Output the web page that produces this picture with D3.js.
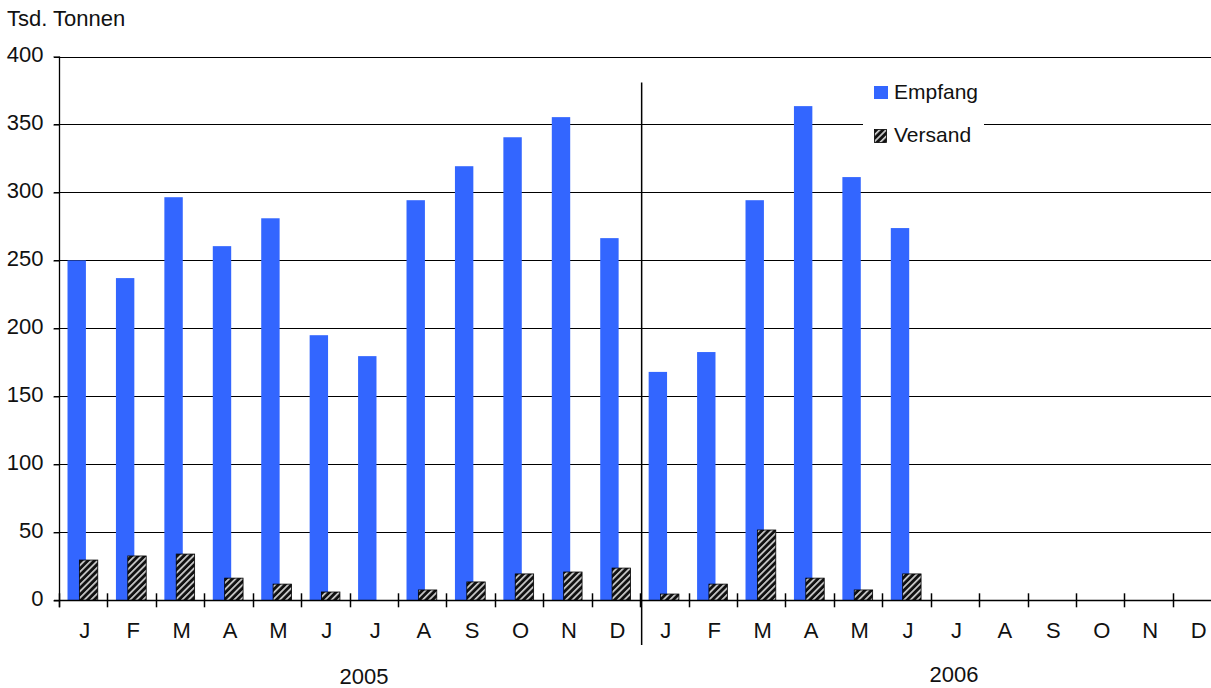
<!DOCTYPE html>
<html>
<head>
<meta charset="utf-8">
<script src="https://cdn.jsdelivr.net/npm/d3@7"></script>
<style>
  html, body { margin: 0; padding: 0; background: #fff; }
  svg { display: block; font-family: "Liberation Sans", Arial, sans-serif; }
</style>
</head>
<body>
<svg id="chart" width="1211" height="688"></svg>
<script>
// ---- data ----
const months = ["J","F","M","A","M","J","J","A","S","O","N","D","J","F","M","A","M","J","J","A","S","O","N","D"];
const years = ["2005", "2006"];
const empfang = [250, 237, 296.5, 260.5, 281, 195, 179.6, 294.3, 319.3, 340.6, 355.4, 266.4,
                 168, 182.6, 294.3, 363.5, 311.3, 273.8, null, null, null, null, null, null];
const versand = [29.6, 32.6, 34, 16.3, 11.9, 6.1, 0, 7.6, 13.5, 19.4, 20.8, 23.7,
                 4.6, 11.9, 51.7, 16.3, 7.6, 19.4, null, null, null, null, null, null];
const yTicks = [0, 50, 100, 150, 200, 250, 300, 350, 400];
const seriesNames = ["Empfang", "Versand"];
const yAxisTitle = "Tsd. Tonnen";

(function () {
// ---- layout ----
const svg = d3.select("#chart");
const pLeft = 60, pRight = 1222.3, pTop = 56.5, pBottom = 600.3;
const idx = d3.range(months.length);
const x = d3.scaleBand().domain(idx).range([pLeft, pRight]).padding(0);
const bw = x.bandwidth();
const y = d3.scaleLinear().domain([0, 400]).range([pBottom, pTop]);
const font = 22;

// pattern for Versand
const defs = svg.append("defs");
const pat = defs.append("pattern")
  .attr("id", "hatch").attr("patternUnits", "userSpaceOnUse")
  .attr("width", 4.6).attr("height", 4.6)
  .attr("patternTransform", "rotate(45)");
pat.append("rect").attr("width", 4.6).attr("height", 4.6).attr("fill", "#111");
pat.append("rect").attr("x", 0).attr("width", 1.7).attr("height", 4.6).attr("fill", "#cfcfcf");

// gridlines
svg.append("g").selectAll("line").data(yTicks.filter(d => d > 0)).join("line")
  .attr("x1", pLeft - 6).attr("x2", 1211)
  .attr("y1", d => Math.round(y(d)) + 0.5).attr("y2", d => Math.round(y(d)) + 0.5)
  .attr("stroke", "#000").attr("stroke-width", 1.2);

// y axis (ticks + labels)
const yAxis = svg.append("g").attr("transform", `translate(${pLeft - 0.5},0)`)
  .call(d3.axisLeft(y).tickValues(yTicks).tickSize(6).tickSizeOuter(0).tickPadding(10));
yAxis.select(".domain").attr("stroke", "#000").attr("stroke-width", 1.3)
  .attr("d", `M0,${y(400)}V${pBottom + 7}`);
yAxis.selectAll(".tick line").attr("stroke", "#000").attr("stroke-width", 1.2);
yAxis.selectAll(".tick text").attr("font-size", font).attr("fill", "#111")
  .attr("font-family", "Liberation Sans, Arial, sans-serif").attr("dy", "0.22em");

// bars: Empfang
svg.append("g").selectAll("rect").data(idx.filter(i => empfang[i] != null)).join("rect")
  .attr("x", i => x(i) + 0.155 * bw)
  .attr("width", 0.38 * bw)
  .attr("y", i => y(empfang[i]))
  .attr("height", i => y(0) - y(empfang[i]))
  .attr("fill", "#3366FF");

// bars: Versand
svg.append("g").selectAll("rect").data(idx.filter(i => versand[i] != null && versand[i] > 0)).join("rect")
  .attr("x", i => x(i) + 0.40 * bw)
  .attr("width", 0.38 * bw)
  .attr("y", i => y(versand[i]))
  .attr("height", i => y(0) - y(versand[i]))
  .attr("fill", "url(#hatch)")
  .attr("stroke", "#000").attr("stroke-width", 0.8);

// x axis line
svg.append("line").attr("x1", pLeft - 6).attr("x2", 1211)
  .attr("y1", Math.round(pBottom) + 0.5).attr("y2", Math.round(pBottom) + 0.5)
  .attr("stroke", "#000").attr("stroke-width", 1.4);

// x ticks at category boundaries
svg.append("g").selectAll("line").data(idx).join("line")
  .attr("x1", i => Math.round(x(i)) - 0.5).attr("x2", i => Math.round(x(i)) - 0.5)
  .attr("y1", pBottom - 7).attr("y2", pBottom + 7)
  .attr("stroke", "#000").attr("stroke-width", 1.5);

// month labels
svg.append("g").selectAll("text").data(idx).join("text")
  .attr("x", i => x(i) + bw / 2 + 0.5).attr("y", 638)
  .attr("text-anchor", "middle").attr("font-size", font).attr("fill", "#111")
  .text(i => months[i]);

// year labels
const yearX = [364, 954];
const yearY = [684, 682];
svg.append("g").selectAll("text").data(years).join("text")
  .attr("x", (d, i) => yearX[i]).attr("y", (d, i) => yearY[i])
  .attr("text-anchor", "middle").attr("font-size", font).attr("fill", "#111")
  .text(d => d);

// year divider
svg.append("line").attr("x1", x(12) + 0.5).attr("x2", x(12) + 0.5)
  .attr("y1", 82.5).attr("y2", 645)
  .attr("stroke", "#000").attr("stroke-width", 1.5);

// y axis title
svg.append("text").attr("x", 7).attr("y", 26).attr("font-size", font).attr("fill", "#111")
  .text(yAxisTitle);

// legend
const lg = svg.append("g");
lg.append("rect").attr("x", 863).attr("y", 72).attr("width", 121).attr("height", 82).attr("fill", "#fff");
const legendY = [86, 129];
lg.append("rect").attr("x", 874).attr("y", legendY[0]).attr("width", 14).attr("height", 13).attr("fill", "#3366FF");
lg.append("rect").attr("x", 874.5).attr("y", legendY[1] + 0.5).attr("width", 12).attr("height", 13)
  .attr("fill", "url(#hatch)").attr("stroke", "#000").attr("stroke-width", 0.8);
lg.selectAll("text").data(seriesNames).join("text")
  .attr("x", 894).attr("y", (d, i) => legendY[i] + 12.5)
  .attr("font-size", 21).attr("fill", "#111")
  .text(d => d);
})();
</script>
</body>
</html>
